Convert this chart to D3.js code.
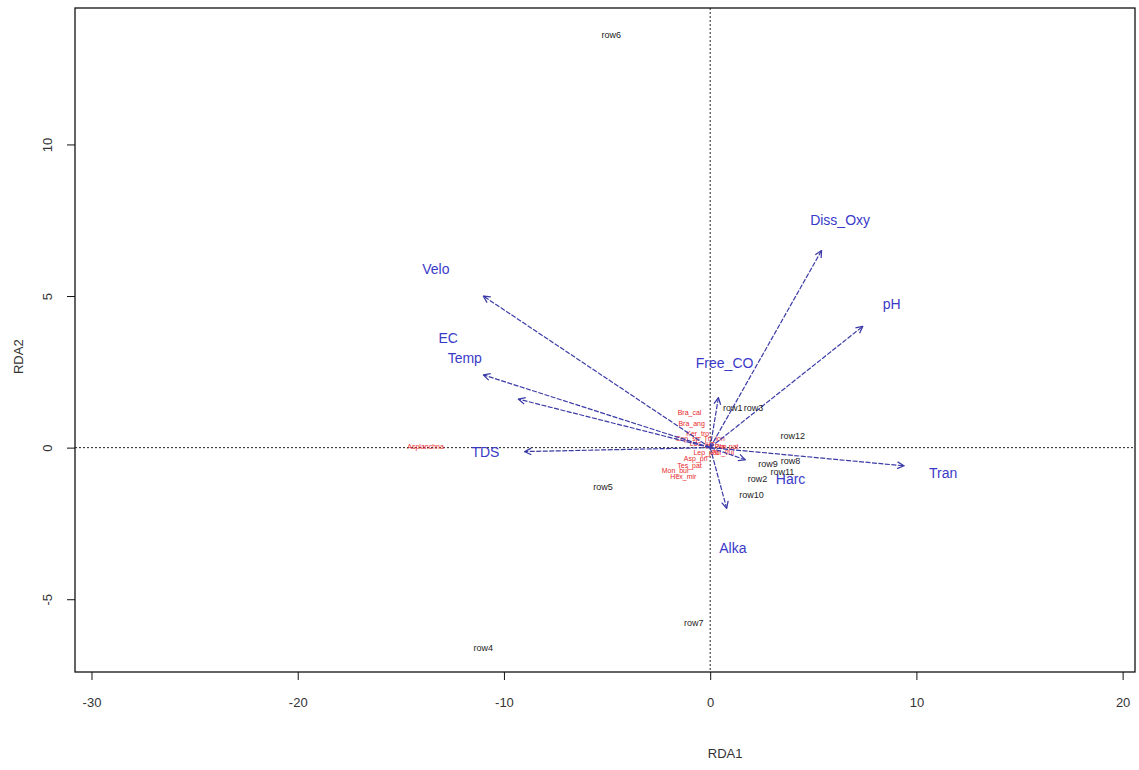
<!DOCTYPE html>
<html><head><meta charset="utf-8">
<script src="https://cdn.jsdelivr.net/npm/d3@7"></script>
<style>
body{margin:0;background:#fff;}
text{font-family:"Liberation Sans Narrow","Liberation Sans",Arial,sans-serif;}
</style></head>
<body>
<svg id="c" width="1139" height="770"></svg>
<script>
// Axis ticks
const xTicks = [-30, -20, -10, 0, 10, 20];
const xTickLabels = ["-30", "-20", "-10", "0", "10", "20"];
const yTicks = [-5, 0, 5, 10];
const yTickLabels = ["-5", "0", "5", "10"];

// Environmental vectors (biplot arrows)
const envNames = ["Velo", "EC", "Temp", "TDS", "Diss_Oxy", "pH", "Free_CO", "Tran", "Harc", "Alka"];
const envX = [-11.0, -11.0, -9.3, -9.0, 5.4, 7.4, 0.4, 9.4, 1.7, 0.8];
const envY = [5.0, 2.4, 1.6, -0.13, 6.5, 4.0, 1.65, -0.6, -0.4, -2.0];
const envLabelX = [-13.3, -12.7, -11.9, -10.9, 6.3, 8.8, 0.7, 11.3, 3.9, 1.1];
const envLabelY = [5.9, 3.6, 2.95, -0.15, 7.5, 4.75, 2.8, -0.85, -1.05, -3.3];

// Site scores
const siteNames = ["row6", "row4", "row7", "row5", "row12", "row10", "row2", "row9", "row8", "row1", "row3", "row11"];
const siteX = [-4.8, -11.0, -0.8, -5.2, 4.0, 2.0, 2.3, 2.8, 3.9, 1.1, 2.1, 3.5];
const siteY = [13.6, -6.6, -5.8, -1.3, 0.4, -1.55, -1.05, -0.55, -0.45, 1.3, 1.3, -0.8];

// Species scores
const spNames = ["Asplanchna", "Bra_cal", "Bra_ang", "Ker_tro", "Lec_lun", "Fil_lon", "Pol_vul", "Asp_pri", "Tes_pat", "Hex_mir", "Mon_bul", "Tri_lon", "Lep_pat", "Pla_pat", "Cep_sp"];
const spX = [-13.8, -1.0, -0.9, -0.6, -0.4, 0.3, 0.6, -0.7, -1.0, -1.3, -1.7, 0.2, -0.2, 0.8, -1.1];
const spY = [0.03, 1.15, 0.8, 0.45, 0.15, 0.05, -0.15, -0.35, -0.6, -0.95, -0.75, 0.3, -0.15, 0.05, 0.3];

const svg = d3.select("#c");
const L = 75, R = 1135, T = 8, B = 672;
const x = d3.scaleLinear().domain([-30.8, 20.6]).range([L, R]);
const y = d3.scaleLinear().domain([-7.4, 14.5]).range([B, T]);

// dotted zero lines
svg.append("line").attr("x1", x(0)).attr("x2", x(0)).attr("y1", T).attr("y2", B)
  .attr("stroke", "#222").attr("stroke-width", 1).attr("stroke-dasharray", "2,2");
svg.append("line").attr("x1", L).attr("x2", R).attr("y1", y(0)).attr("y2", y(0))
  .attr("stroke", "#222").attr("stroke-width", 1).attr("stroke-dasharray", "2,2");

// arrowhead marker
const defs = svg.append("defs");
defs.append("marker").attr("id", "ah").attr("viewBox", "0 0 10 10").attr("refX", 9).attr("refY", 5)
  .attr("markerWidth", 7).attr("markerHeight", 7).attr("orient", "auto")
  .append("path").attr("d", "M1,1 L9,5 L1,9").attr("fill", "none").attr("stroke", "#3b3ba8").attr("stroke-width", 1.5);

// species labels (red)
svg.append("g").selectAll("text").data(spNames).join("text")
  .attr("x", (d, i) => x(spX[i])).attr("y", (d, i) => y(spY[i]))
  .attr("text-anchor", "middle").attr("dominant-baseline", "central")
  .attr("font-size", 7).attr("fill", "#e8282c").text(d => d);

// arrows
svg.append("g").selectAll("line").data(envNames).join("line")
  .attr("x1", x(0)).attr("y1", y(0))
  .attr("x2", (d, i) => x(envX[i])).attr("y2", (d, i) => y(envY[i]))
  .attr("stroke", "#3b3ba8").attr("stroke-width", 1.2).attr("stroke-dasharray", "5,1.5")
  .attr("marker-end", "url(#ah)");

// arrow labels
svg.append("g").selectAll("text").data(envNames).join("text")
  .attr("x", (d, i) => x(envLabelX[i])).attr("y", (d, i) => y(envLabelY[i]))
  .attr("text-anchor", "middle").attr("dominant-baseline", "central")
  .attr("font-size", 14).attr("fill", "#3a3ac8").text(d => d);

// site labels
svg.append("g").selectAll("text").data(siteNames).join("text")
  .attr("x", (d, i) => x(siteX[i])).attr("y", (d, i) => y(siteY[i]))
  .attr("text-anchor", "middle").attr("dominant-baseline", "central")
  .attr("font-size", 9).attr("fill", "#222").text(d => d);

// box
svg.append("rect").attr("x", L).attr("y", T).attr("width", R - L).attr("height", B - T)
  .attr("fill", "none").attr("stroke", "#111").attr("stroke-width", 1.3);

// axes
const xAxis = d3.axisBottom(x).tickValues(xTicks).tickFormat((d, i) => xTickLabels[i]).tickSize(8).tickPadding(18);
const gx = svg.append("g").attr("transform", `translate(0,${B})`).call(xAxis);
gx.select(".domain").remove();
gx.selectAll("text").attr("font-size", 13).attr("fill", "#333").attr("font-family", "Liberation Sans Narrow, Liberation Sans, sans-serif");
gx.selectAll("line").attr("stroke", "#111");

const yAxis = d3.axisLeft(y).tickValues(yTicks).tickFormat((d, i) => yTickLabels[i]).tickSize(8);
const gy = svg.append("g").attr("transform", `translate(${L},0)`).call(yAxis);
gy.select(".domain").remove();
gy.selectAll("line").attr("stroke", "#111");
gy.selectAll("text").attr("font-size", 13).attr("fill", "#333")
  .attr("font-family", "Liberation Sans Narrow, Liberation Sans, sans-serif")
  .attr("x", 0).attr("y", 0).attr("dy", null)
  .attr("transform", "translate(-28,0) rotate(-90)")
  .attr("text-anchor", "middle").attr("dominant-baseline", "central");

// axis titles
svg.append("text").attr("x", x(0) + 15).attr("y", 758).attr("text-anchor", "middle")
  .attr("font-size", 13).attr("fill", "#333").text("RDA1");
svg.append("text").attr("transform", `translate(18,${y(3)}) rotate(-90)`).attr("text-anchor", "middle")
  .attr("dominant-baseline", "central").attr("font-size", 13).attr("fill", "#333").text("RDA2");
</script>
</body></html>
